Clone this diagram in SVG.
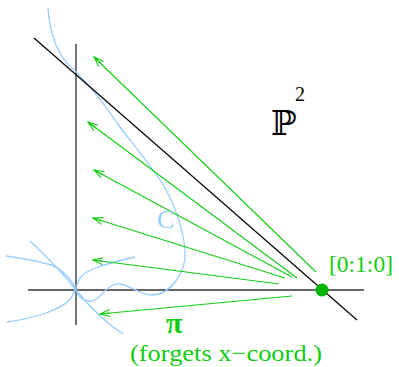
<svg xmlns="http://www.w3.org/2000/svg" width="399" height="367" viewBox="0 0 399 367">
<defs>
<style>
.axis{stroke:#666;stroke-width:1.8;fill:none}
.line{stroke:#000;stroke-width:1.2;fill:none}
.curve{stroke:#99ccff;stroke-width:1.3;fill:none}
.arrow{stroke:#11cc11;stroke-width:1.1;fill:none;marker-end:url(#ah)}
.lbl{font-family:"Liberation Serif","Times New Roman",serif;fill:#11cc11}
</style>
<marker id="ah" markerUnits="userSpaceOnUse" markerWidth="14" markerHeight="10" viewBox="-12 -5 14 10" refX="0" refY="0" orient="auto" overflow="visible">
<path d="M-10,-3.5 L0,0 L-10,3.5 M-10,0 L0,0" stroke="#11cc11" stroke-width="1.1" fill="none"/>
</marker>
</defs>
<g id="axes">
<line class="axis" x1="76" y1="44" x2="76" y2="325"/>
<line class="axis" x1="28" y1="290" x2="364" y2="290"/>
</g>
<g id="curve-C">
<path class="curve" d="M48,8 C50,35 57,55 72,68 C85,80 100,98 117,123 C128,138 145,158 160,180 C172,198 183,225 185,250 C187,272 170,295 152,295 C140,295 132,286 120,284 C112,283 105,290 100,296 C96,300 92,302 88,301 C82,300 78,296 76,290 C72,279 60,267 48,264 C34,260 20,258 6,256"/>
<path class="curve" d="M30,241 C45,255 62,272 76,290 C88,305 105,322 123,334"/>
<path class="curve" d="M7,322 C35,318 62,310 71,298 C76,291 76,284 80,278 C86,270 100,265 135,257"/>
</g>
<g id="line-infinity">
<line class="line" x1="34" y1="38" x2="357" y2="320"/>
</g>
<g id="connectors">
<line class="arrow" x1="316" y1="272" x2="94" y2="57"/>
<line class="arrow" x1="297" y1="278" x2="88" y2="122"/>
<line class="arrow" x1="292" y1="277" x2="94" y2="170"/>
<line class="arrow" x1="285" y1="278" x2="93" y2="218"/>
<line class="arrow" x1="279" y1="284" x2="93" y2="260"/>
<line class="arrow" x1="292" y1="296" x2="100" y2="314"/>
</g>
<g id="point">
<circle cx="322" cy="290" r="6.5" fill="#00b400"/>
<text class="lbl" x="329" y="272" font-size="23" textLength="64" lengthAdjust="spacingAndGlyphs">[0:1:0]</text>
</g>
<g id="labels">
<text x="271" y="135" font-family="'DejaVu Serif',serif" font-size="34" fill="#000">ℙ</text>
<text x="295" y="101" font-family="'Liberation Serif',serif" font-size="20" fill="#000">2</text>
<text x="157" y="228" font-family="'Liberation Serif',serif" font-size="26" fill="#99ccff">C</text>
<text class="lbl" x="166" y="333" font-size="30" font-weight="bold">π</text>
<text class="lbl" x="130" y="361" font-size="24" textLength="192" lengthAdjust="spacingAndGlyphs">(forgets x−coord.)</text>
</g>
</svg>
